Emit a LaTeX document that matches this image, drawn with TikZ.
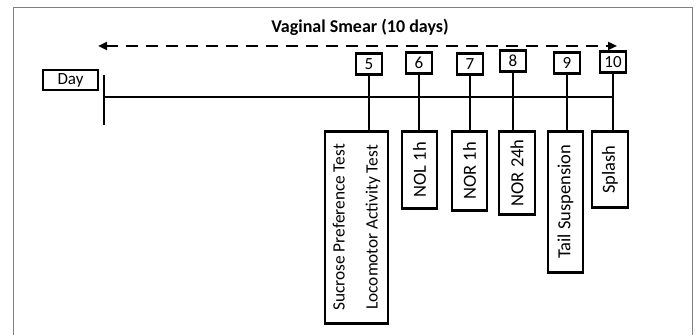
\documentclass[tikz,border=0pt]{standalone}
\usepackage{fontspec}
\setmainfont{Carlito}
\usetikzlibrary{arrows.meta}
\begin{document}
\begin{tikzpicture}[x=1pt,y=1pt,
  daybox/.style={draw, rectangle, line width=2.8pt, minimum width=26pt, minimum height=21pt, inner sep=0pt, font=\fontsize{17}{19}\selectfont},
  testbox/.style={draw, rectangle, line width=2.8pt, rotate=90, anchor=east, inner sep=0pt, font=\fontsize{18.5}{21}\selectfont},
  link/.style={line width=2.8pt}]
\useasboundingbox (0,0) rectangle (696,335);
\draw[gray, line width=1pt] (13,0) -- (13,327) -- (692,327) -- (692,0);
\node[font=\bfseries\fontsize{18}{21}\selectfont] (title) at (360,308) {Vaginal Smear (10 days)};
\coordinate (smearstart) at (98,289);
\coordinate (smearend) at (617,289);
\draw[line width=2.8pt, dash pattern=on 12pt off 8pt, {Triangle[length=9pt,width=8pt]}-{Triangle[length=9pt,width=8pt]}] (smearstart) -- (smearend);
\node[daybox, minimum width=55pt, minimum height=20pt] (day) at (70.5,255) {Day};
\coordinate (tickt) at (104,260);
\coordinate (tickb) at (104,210);
\coordinate (lineend) at (613,238);
\draw[link] (tickt) -- (tickb);
\draw[link] (tickt |- lineend) -- (lineend);
\node[daybox] (d5) at (369,271) {5};
\node[daybox] (d6) at (419,272) {6};
\node[daybox] (d7) at (470,271) {7};
\node[daybox] (d8) at (513,274) {8};
\node[daybox] (d9) at (567,272) {9};
\node[daybox] (d10) at (613,273) {10};
\node[testbox, minimum width=192pt, minimum height=63pt, align=center, font=\fontsize{17.3}{33}\selectfont] (sucrose) at (356.5,205) {Sucrose Preference Test\\Locomotor Activity Test};
\node[testbox, minimum width=77pt, minimum height=35pt] (nol) at (419.5,205) {NOL 1h};
\node[testbox, minimum width=79pt, minimum height=35pt] (nor1) at (469.5,205) {NOR 1h};
\node[testbox, minimum width=83pt, minimum height=36pt] (nor24) at (517,205) {NOR 24h};
\node[testbox, minimum width=141pt, minimum height=35pt] (tail) at (565.5,205) {Tail Suspension};
\node[testbox, minimum width=76pt, minimum height=36pt] (splash) at (610,205) {Splash};
\draw[link] (d5) -- (d5 |- sucrose.east);
\draw[link] (d6) -- (d6 |- nol.east);
\draw[link] (d7) -- (d7 |- nor1.east);
\draw[link] (d8) -- (d8 |- nor24.east);
\draw[link] (d9) -- (d9 |- tail.east);
\draw[link] (d10) -- (d10 |- splash.east);
\end{tikzpicture}
\end{document}
